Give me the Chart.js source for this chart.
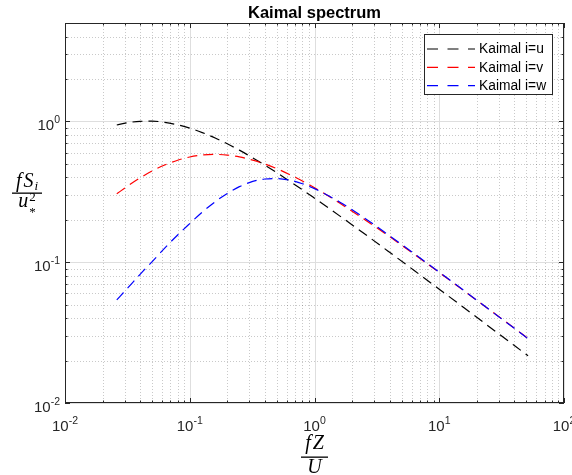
<!DOCTYPE html>
<html>
<head>
<meta charset="utf-8">
<script src="https://cdn.jsdelivr.net/npm/chart.js@4/dist/chart.umd.min.js"></script>
<style>
html,body{margin:0;padding:0;background:#ffffff;}
canvas{display:block;}
</style>
</head>
<body>
<canvas id="c" width="572" height="475"></canvas>
<script>
// ---- data ----
const nValues = [0.026, 0.032, 0.04, 0.05, 0.063, 0.08, 0.1, 0.126, 0.16, 0.2, 0.25, 0.32, 0.4, 0.5, 0.63, 0.8, 1, 1.6, 2.5, 4, 6.3, 10, 16, 25, 40, 51.5];
const kaimalU = [0.943, 0.980, 1.002, 1.004, 0.985, 0.946, 0.896, 0.833, 0.762, 0.693, 0.625, 0.551, 0.489, 0.432, 0.377, 0.327, 0.285, 0.2125, 0.1597, 0.1176, 0.0873, 0.0643, 0.0471, 0.0350, 0.0256, 0.02165];
const kaimalV = [0.306, 0.349, 0.397, 0.445, 0.490, 0.530, 0.559, 0.577, 0.583, 0.577, 0.560, 0.531, 0.498, 0.461, 0.420, 0.377, 0.338, 0.262, 0.202, 0.152, 0.1138, 0.0845, 0.0621, 0.0463, 0.0340, 0.0287];
const kaimalW = [0.054, 0.066, 0.082, 0.101, 0.126, 0.156, 0.188, 0.227, 0.269, 0.308, 0.344, 0.375, 0.390, 0.393, 0.383, 0.361, 0.333, 0.267, 0.207, 0.154, 0.115, 0.085, 0.0623, 0.0463, 0.0339, 0.0286];
const seriesNames = ['Kaimal i=u', 'Kaimal i=v', 'Kaimal i=w'];
const seriesColors = ['#000000', '#ff0000', '#0000ff'];
const xTickExponents = [-2, -1, 0, 1, 2];
const yTickExponents = [-2, -1, 0];
const xRange = [0.01, 100];
const yRange = [0.01, 5];
const chartTitle = 'Kaimal spectrum';

const SANS = '"Liberation Sans", Arial, Helvetica, sans-serif';
const SERIF = '"Liberation Serif", "Times New Roman", serif';
const AXIS_COLOR = '#262626';

function toPoints(ys) { return nValues.map((n, i) => ({ x: n, y: ys[i] })); }

const seriesData = [kaimalU, kaimalV, kaimalW];
const datasets = seriesData.map((ys, i) => ({
  label: seriesNames[i],
  data: toPoints(ys),
  borderColor: seriesColors[i],
  backgroundColor: seriesColors[i],
  borderWidth: 1.2,
  borderDash: [10, 6],
  pointRadius: 0,
  fill: false,
  cubicInterpolationMode: 'monotone',
  order: 2 - i
}));

function decadeValues(lo, hi) {
  const major = [], minor = [];
  for (let d = Math.floor(Math.log10(lo)); d <= Math.ceil(Math.log10(hi)); d++) {
    for (let m = 1; m <= 9; m++) {
      const v = m * Math.pow(10, d);
      if (v < lo * 0.999 || v > hi * 1.001) continue;
      if (m === 1) major.push(v); else minor.push(v);
    }
  }
  return { major, minor };
}

const decor = {
  id: 'decor',
  beforeDatasetsDraw(chart) {
    const ctx = chart.ctx, a = chart.chartArea, xs = chart.scales.x, ys = chart.scales.y;
    const xv = decadeValues(xRange[0], xRange[1]);
    const yv = decadeValues(yRange[0], yRange[1]);
    ctx.save();
    ctx.fillStyle = '#ffffff';
    ctx.fillRect(a.left, a.top, a.right - a.left, a.bottom - a.top);
    ctx.lineWidth = 1;
    // minor grid (dotted)
    ctx.strokeStyle = 'rgba(38,38,38,0.25)';
    ctx.setLineDash([1, 2]);
    ctx.beginPath();
    xv.minor.forEach(v => { const p = Math.round(xs.getPixelForValue(v)) + 0.5; ctx.moveTo(p, a.top); ctx.lineTo(p, a.bottom); });
    yv.minor.forEach(v => { const p = Math.round(ys.getPixelForValue(v)) + 0.5; ctx.moveTo(a.left, p); ctx.lineTo(a.right, p); });
    ctx.stroke();
    // major grid (solid, light)
    ctx.setLineDash([]);
    ctx.strokeStyle = '#dedede';
    ctx.beginPath();
    xv.major.forEach(v => { const p = Math.round(xs.getPixelForValue(v)) + 0.5; ctx.moveTo(p, a.top); ctx.lineTo(p, a.bottom); });
    yv.major.forEach(v => { const p = Math.round(ys.getPixelForValue(v)) + 0.5; ctx.moveTo(a.left, p); ctx.lineTo(a.right, p); });
    ctx.stroke();
    ctx.restore();
  },
  afterDatasetsDraw(chart) {
    const ctx = chart.ctx, a = chart.chartArea, xs = chart.scales.x, ys = chart.scales.y;
    const xv = decadeValues(xRange[0], xRange[1]);
    const yv = decadeValues(yRange[0], yRange[1]);
    ctx.save();
    ctx.setLineDash([]);
    ctx.lineWidth = 1;
    ctx.strokeStyle = AXIS_COLOR;
    // box
    ctx.strokeRect(a.left + 0.5, a.top + 0.5, a.right - a.left - 1, a.bottom - a.top - 1);
    // ticks (inward on all four sides)
    ctx.beginPath();
    const tick = (vals, len) => {
      vals.forEach(v => {
        const p = Math.round(xs.getPixelForValue(v)) + 0.5;
        ctx.moveTo(p, a.bottom); ctx.lineTo(p, a.bottom - len);
        ctx.moveTo(p, a.top); ctx.lineTo(p, a.top + len);
      });
    };
    const ticky = (vals, len) => {
      vals.forEach(v => {
        const p = Math.round(ys.getPixelForValue(v)) + 0.5;
        ctx.moveTo(a.left, p); ctx.lineTo(a.left + len, p);
        ctx.moveTo(a.right, p); ctx.lineTo(a.right - len, p);
      });
    };
    tick(xv.major, 5); tick(xv.minor, 2.5);
    ticky(yv.major, 5); ticky(yv.minor, 2.5);
    ctx.stroke();

    // tick labels 10^e
    ctx.fillStyle = AXIS_COLOR;
    ctx.textBaseline = 'alphabetic';
    const baseFont = '15px ' + SANS, expFont = '10.5px ' + SANS;
    xTickExponents.forEach(e => {
      const px = xs.getPixelForValue(Math.pow(10, e));
      ctx.font = baseFont; const wb = ctx.measureText('10').width;
      ctx.font = expFont; const we = ctx.measureText(String(e)).width;
      const x0 = px - (wb + we) / 2;
      ctx.textAlign = 'left';
      ctx.font = baseFont; ctx.fillText('10', x0, a.bottom + 28);
      ctx.font = expFont; ctx.fillText(String(e), x0 + wb, a.bottom + 21);
    });
    yTickExponents.forEach(e => {
      const py = ys.getPixelForValue(Math.pow(10, e));
      ctx.font = expFont; const we = ctx.measureText(String(e)).width;
      const xr = a.left - 5;
      ctx.textAlign = 'left';
      ctx.font = baseFont; const wb = ctx.measureText('10').width;
      ctx.fillText('10', xr - we - wb, py + 8.5);
      ctx.font = expFont; ctx.fillText(String(e), xr - we, py + 2);
    });

    // title
    ctx.fillStyle = '#000000';
    ctx.font = 'bold 16.5px ' + SANS;
    ctx.textAlign = 'center';
    ctx.fillText(chartTitle, (a.left + a.right) / 2, 18);

    // axis labels (math-like fractions)
    ctx.textAlign = 'left';
    const it = s => 'italic ' + s + 'px ' + SERIF;
    // x label: fZ / U
    {
      const cx = (a.left + a.right) / 2;
      ctx.font = it(20);
      const wf = ctx.measureText('f').width, wz = ctx.measureText('Z').width;
      const numW = wf + 2 + wz;
      ctx.fillText('f', cx - numW / 2, 449);
      ctx.fillText('Z', cx - numW / 2 + wf + 2, 449);
      const wu = ctx.measureText('U').width;
      ctx.fillText('U', cx - wu / 2, 473);
      const bw = 27;
      ctx.fillRect(cx - bw / 2, 456.5, bw, 1.3);
    }
    // y label: f S_i / u_*^2
    {
      const cx = 27;
      ctx.font = it(20);
      const wf = ctx.measureText('f').width, ws = ctx.measureText('S').width;
      ctx.font = it(13);
      const wi = ctx.measureText('i').width;
      const numW = wf + 2 + ws + 1 + wi;
      let x = cx - numW / 2;
      ctx.font = it(20);
      ctx.fillText('f', x, 187); x += wf + 2;
      ctx.fillText('S', x, 187); x += ws + 1;
      ctx.font = it(13);
      ctx.fillText('i', x, 190);
      ctx.fillRect(12, 192.5, 30, 1.3);
      ctx.font = it(20);
      const wu = ctx.measureText('u').width;
      ctx.font = '13px ' + SERIF;
      const w2 = ctx.measureText('2').width;
      const denW = wu + 1 + w2;
      x = cx - denW / 2;
      ctx.font = it(20);
      ctx.fillText('u', x, 207);
      ctx.font = '13px ' + SERIF;
      ctx.fillText('2', x + wu + 1, 201);
      ctx.fillText('*', x + wu + 1, 216);
    }

    // legend
    const lx = 424, ly = 34, lw = 129, lh = 61;
    ctx.fillStyle = '#ffffff';
    ctx.fillRect(lx, ly, lw, lh);
    ctx.strokeStyle = AXIS_COLOR;
    ctx.lineWidth = 1;
    ctx.strokeRect(lx + 0.5, ly + 0.5, lw - 1, lh - 1);
    chart.data.datasets.forEach((ds, i) => {
      const y = ly + 15 + i * 18.3;
      ctx.strokeStyle = seriesColors[i];
      ctx.lineWidth = 1.2;
      ctx.setLineDash([11, 9.5]);
      ctx.beginPath();
      ctx.moveTo(lx + 3, y);
      ctx.lineTo(lx + 51, y);
      ctx.stroke();
      ctx.setLineDash([]);
      ctx.fillStyle = '#000000';
      ctx.font = '13.8px ' + SANS;
      ctx.textBaseline = 'middle';
      ctx.textAlign = 'left';
      ctx.fillText(ds.label, lx + 55, y + 0.5);
    });
    ctx.restore();
  }
};

new Chart(document.getElementById('c'), {
  type: 'line',
  data: { datasets },
  options: {
    responsive: false,
    animation: false,
    devicePixelRatio: 1,
    layout: { padding: { left: 65, right: 8, top: 23, bottom: 72 } },
    plugins: { legend: { display: false }, tooltip: { enabled: false }, title: { display: false } },
    scales: {
      x: { type: 'logarithmic', min: xRange[0], max: xRange[1], display: false },
      y: { type: 'logarithmic', min: yRange[0], max: yRange[1], display: false }
    },
    elements: { line: { tension: 0 } }
  },
  plugins: [decor]
});
</script>
</body>
</html>
